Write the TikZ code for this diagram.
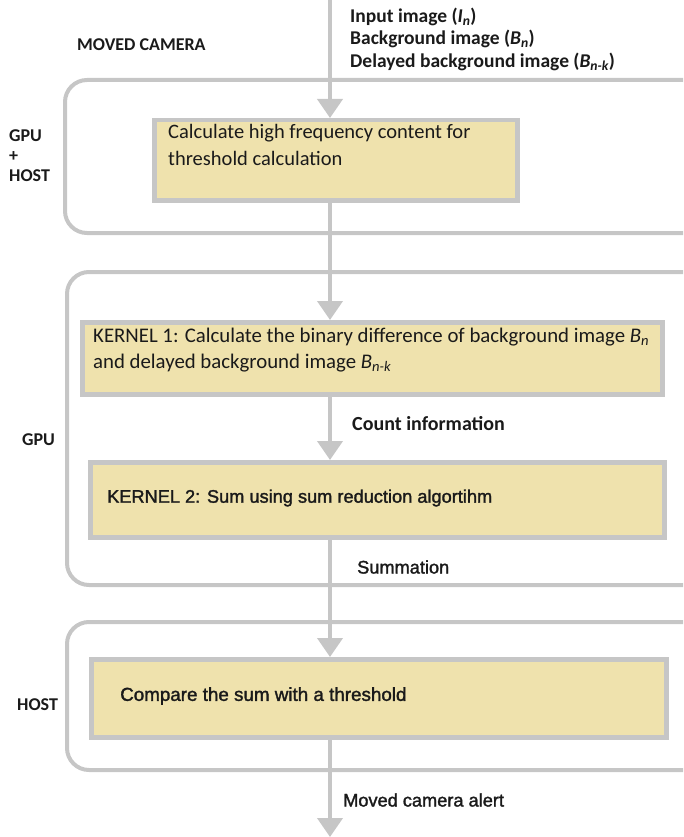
\documentclass[tikz,border=0pt]{standalone}
\usepackage{fontspec}
\setmainfont{Carlito}
\newfontfamily\arialf{Liberation Sans}[FakeBold=1.6]
\usetikzlibrary{arrows.meta}
\definecolor{lineg}{HTML}{C6C6C6}
\definecolor{boxfill}{HTML}{EFE2AD}
\definecolor{txt}{HTML}{1A1A1A}
\tikzset{
  group/.style={draw=lineg, line width=4pt, rounded corners=22pt},
  procbox/.style={draw=lineg, fill=boxfill, line width=4.5pt, anchor=north west, inner sep=0pt},
  flow/.style={draw=lineg, line width=4pt, -{Triangle[width=25pt,length=19pt]}},
  lbl/.style={text=txt, anchor=west, inner sep=0pt, font=\bfseries\fontsize{19.5}{22}\selectfont},
  side/.style={text=txt, anchor=west, inner sep=0pt, font=\bfseries\fontsize{18}{21}\selectfont},
  btext/.style={text=txt, anchor=west, inner sep=0pt, font=\fontsize{20.5}{24}\selectfont},
  abtext/.style={text=txt, anchor=west, inner sep=0pt, font=\arialf\fontsize{18.2}{22}\selectfont},
}
\begin{document}
\begin{tikzpicture}[x=1pt,y=-1pt]
\useasboundingbox (0,0) rectangle (683,837);
\begin{scope}
\clip (0,0) rectangle (683,837);
% group boxes
\draw[group] (65,80) rectangle (705,233);
\draw[group] (67,272) rectangle (705,585);
\draw[group] (67,622) rectangle (705,770);
\end{scope}
\node[side] (mc) at (77,45) {MOVED CAMERA};
\node[side, align=left] (gh) at (9,156) {GPU\\[-1pt]+\\[-1pt]HOST};
\node[side] (gpu) at (22,440) {GPU};
\node[side] (host) at (17,705) {HOST};
% inputs
\node[lbl] (in1) at (350,17) {Input image (\textit{I\textsubscript{n}})};
\node[lbl] (in2) at (350,39) {Background image (\textit{B\textsubscript{n}})};
\node[lbl] (in3) at (350,62) {Delayed background image (\textit{B\textsubscript{n-k}})};
\coordinate (top) at (330,0);
\coordinate (bot) at (330,837);
% process boxes
\node[procbox, minimum width=363pt, minimum height=80pt] (b1) at (152,118) {};
\node[btext] (t1a) at (168,133) {Calculate high frequency content for};
\node[btext] (t1b) at (168,158) {threshold calculation};
\node[procbox, minimum width=580pt, minimum height=72pt] (b2) at (80,320) {};
\node[btext, font=\fontsize{20.8}{24}\selectfont] (t2a) at (93,337) {KERNEL 1: Calculate the binary difference of background image \textit{B\textsubscript{n}}};
\node[btext, font=\fontsize{20.8}{24}\selectfont] (t2b) at (93,363) {and delayed background image \textit{B\textsubscript{n-k}}};
\node[procbox, minimum width=574pt, minimum height=75pt] (b3) at (88,460) {};
\node[abtext] (t3) at (107,498) {KERNEL 2: Sum using sum reduction algortihm};
\node[procbox, minimum width=575pt, minimum height=78pt] (b4) at (89,657) {};
\node[abtext, font=\arialf\fontsize{18.8}{22}\selectfont] (t4) at (120,696) {Compare the sum with a threshold};
% flows
\draw[flow] (top) -- (b1.north -| top);
\draw[flow] (b1.south -| top) -- (b2.north -| top);
\draw[flow] (b2.south -| top) -- (b3.north -| top);
\draw[flow] (b3.south -| top) -- (b4.north -| top);
\draw[flow] (b4.south -| top) -- (bot);
% flow labels
\node[lbl, font=\bfseries\fontsize{20}{24}\selectfont] (ci) at (352,424) {Count information};
\node[abtext] (sm) at (357,567) {Summation};
\node[abtext] (mca) at (343,800) {Moved camera alert};
\end{tikzpicture}
\end{document}
